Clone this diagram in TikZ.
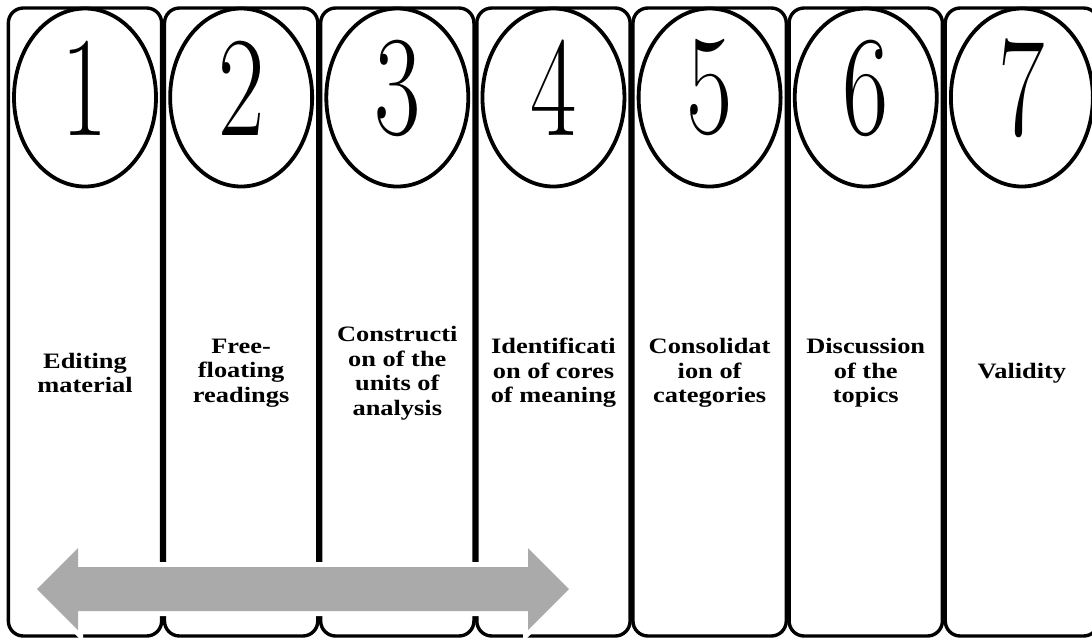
\documentclass[tikz,border=0pt]{standalone}
\usepackage{fontspec}
\usepackage{graphicx}
\newfontfamily\labfont[FakeStretch=1.2]{Liberation Serif}
\usetikzlibrary{shapes.geometric,calc}
\begin{document}
\begin{tikzpicture}[x=1pt,y=-1pt,
  panel/.style={draw,line width=3.4pt,rounded corners=15pt,minimum width=153.3pt,minimum height=628pt,inner sep=0pt},
  numring/.style={draw,ellipse,line width=3.8pt,minimum width=142pt,minimum height=178pt,inner sep=0pt},
  digit/.style={inner sep=0pt,font=\fontsize{140}{140}\selectfont},
  steplabel/.style={align=center,inner sep=0pt,font=\labfont\bfseries\fontsize{22}{24.5}\selectfont},
  twoway/.style={fill={rgb,255:red,170;green,170;blue,170},preaction={draw=white,line width=10pt}}]
\useasboundingbox (0,0) rectangle (1092,638);
\foreach \i/\d/\t in {1/1/{Editing\\material},
                      2/2/{Free-\\floating\\readings},
                      3/3/{Constructi\\on of the\\units of\\analysis},
                      4/4/{Identificati\\on of cores\\of meaning},
                      5/5/{Consolidat\\ion of\\categories},
                      6/6/{Discussion\\of the\\topics},
                      7/7/{Validity}}{
  \pgfmathsetmacro{\cx}{85+156.15*(\i-1)}
  \node[panel] (box\i) at (\cx,322) {};
  \node[numring] (ring\i) at (\cx,97.5) {};
  \node[digit] (num\i) at (\cx,88) {\scalebox{0.72}[1.02]{\d}};
  \node[steplabel] (lab\i) at (\cx,373) {\t};
}
\coordinate (aL) at (37,589);
\coordinate (aR) at (569,589);
\path[twoway] (aL) -- ++(41,-41) -- ++(0,19) -- ($(aR)+(-41,-22)$) -- ++(0,-19) -- (aR)
  -- ++(-41,41) -- ++(0,-19) -- ($(aL)+(41,22)$) -- ++(0,19) -- cycle;
\end{tikzpicture}
\end{document}
